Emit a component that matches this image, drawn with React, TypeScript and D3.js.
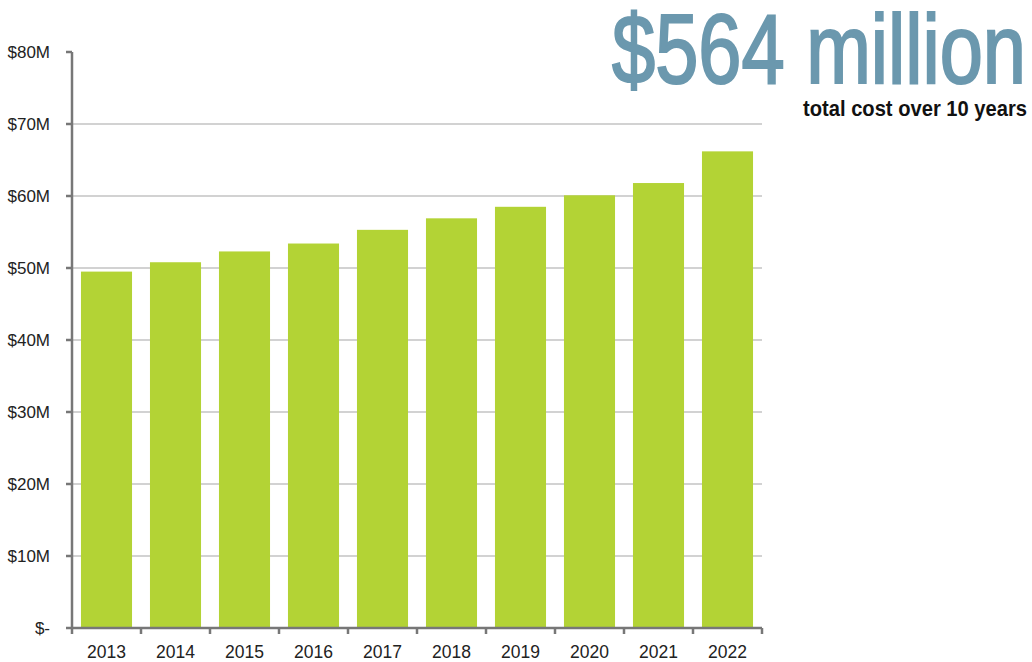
import React, { useEffect, useRef } from "react";
import * as d3 from "d3";

const years = ["2013", "2014", "2015", "2016", "2017", "2018", "2019", "2020", "2021", "2022"];
const costs = [49.5, 50.8, 52.3, 53.4, 55.3, 56.9, 58.5, 60.1, 61.8, 66.2];
const yTicks = [0, 10, 20, 30, 40, 50, 60, 70, 80];
const headline = "$564 million";
const subline = "total cost over 10 years";

const width = 1032;
const height = 662;

const App = () => {
  const ref = useRef<SVGSVGElement>(null);

  useEffect(() => {
    const svg = d3.select(ref.current);
    svg.selectAll("*").remove();

    const x = d3.scaleBand().domain(years).range([72, 762]).paddingInner(0.26).paddingOuter(0.13);
    const y = d3.scaleLinear().domain([0, 80]).range([628, 52]);
    const step = x.step();

    // gridlines
    svg
      .append("g")
      .selectAll("line")
      .data(yTicks.filter((d) => d > 0 && d < 80))
      .join("line")
      .attr("x1", 72)
      .attr("x2", 762)
      .attr("y1", (d) => y(d))
      .attr("y2", (d) => y(d))
      .attr("stroke", "#d2d2d2")
      .attr("stroke-width", 2);

    // bars
    svg
      .append("g")
      .selectAll("rect")
      .data(costs)
      .join("rect")
      .attr("x", (d, i) => x(years[i])!)
      .attr("width", x.bandwidth())
      .attr("y", (d) => y(d))
      .attr("height", (d) => y(0) - y(d))
      .attr("fill", "#b3d335");

    const axisColor = "#777";

    // y axis
    svg.append("line").attr("x1", 72).attr("x2", 72).attr("y1", y(80)).attr("y2", y(0))
      .attr("stroke", axisColor).attr("stroke-width", 2.5);
    svg.append("g").selectAll("line").data(yTicks).join("line")
      .attr("x1", 66).attr("x2", 72)
      .attr("y1", (d) => y(d)).attr("y2", (d) => y(d))
      .attr("stroke", axisColor).attr("stroke-width", 2.5);
    svg.append("g").selectAll("text").data(yTicks).join("text")
      .attr("x", 50).attr("y", (d) => y(d)).attr("dy", "0.35em")
      .attr("text-anchor", "end")
      .attr("font-family", "Liberation Sans, Arial, sans-serif")
      .attr("font-size", 17).attr("fill", "#222")
      .text((d) => (d === 0 ? "$-" : `$${d}M`));

    // x axis
    svg.append("line").attr("x1", 72).attr("x2", 762).attr("y1", y(0)).attr("y2", y(0))
      .attr("stroke", axisColor).attr("stroke-width", 2.5);
    const bounds = years.map((d) => x(d)! - (step - x.bandwidth()) / 2).concat([762]);
    svg.append("g").selectAll("line").data(bounds).join("line")
      .attr("x1", (d) => d).attr("x2", (d) => d)
      .attr("y1", y(0)).attr("y2", y(0) + 6)
      .attr("stroke", axisColor).attr("stroke-width", 2.5);
    svg.append("g").selectAll("text").data(years).join("text")
      .attr("x", (d) => x(d)! + x.bandwidth() / 2).attr("y", 658)
      .attr("text-anchor", "middle")
      .attr("font-family", "Liberation Sans, Arial, sans-serif")
      .attr("font-size", 17.5).attr("fill", "#222")
      .text((d) => d);

    // headline
    svg.append("text")
      .attr("x", 1026).attr("y", 83)
      .attr("text-anchor", "end")
      .attr("font-family", "Liberation Sans Narrow, Liberation Sans, Arial, sans-serif")
      .attr("font-size", 98)
      .attr("fill", "#6b98ae")
      .attr("stroke", "#6b98ae")
      .attr("stroke-width", 2.2)
      .attr("textLength", 414)
      .attr("lengthAdjust", "spacingAndGlyphs")
      .text(headline);
    svg.append("text")
      .attr("x", 1027).attr("y", 116)
      .attr("text-anchor", "end")
      .attr("font-family", "Liberation Sans Narrow, Liberation Sans, Arial, sans-serif")
      .attr("font-size", 22)
      .attr("font-weight", "bold")
      .attr("fill", "#111")
      .attr("textLength", 224)
      .attr("lengthAdjust", "spacingAndGlyphs")
      .text(subline);
  }, []);

  return (
    <svg
      ref={ref}
      width={width}
      height={height}
      style={{ position: "absolute", left: 0, top: 0, background: "#fff" }}
    />
  );
};

export default App;
